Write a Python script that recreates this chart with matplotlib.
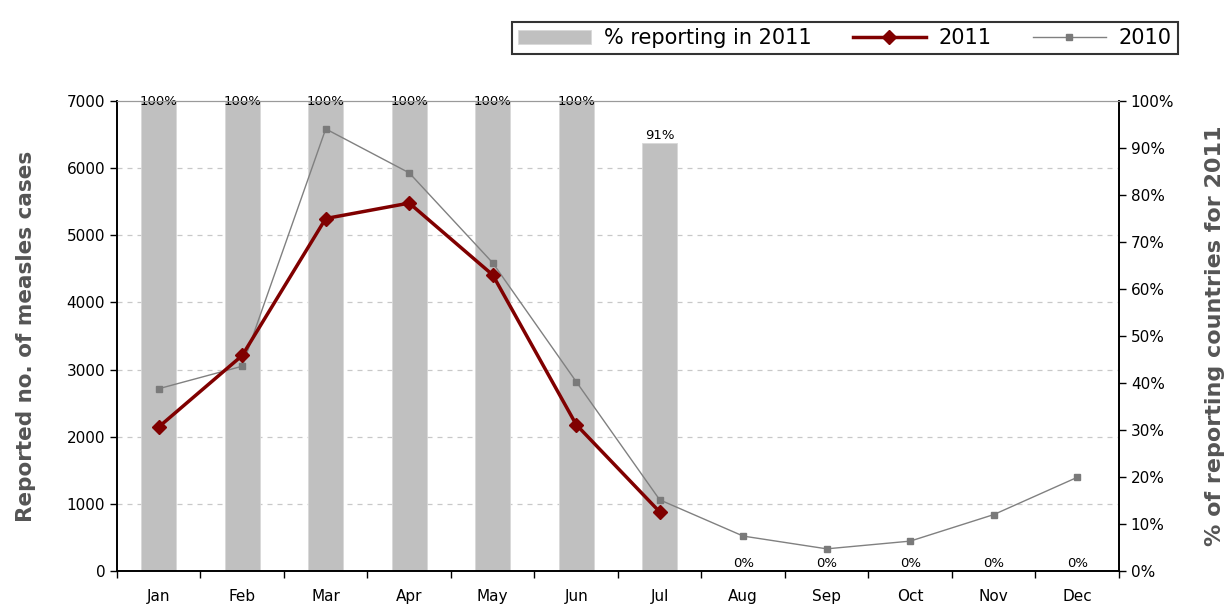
import matplotlib
matplotlib.use('Agg')
import matplotlib.pyplot as plt
from matplotlib.ticker import FixedLocator, PercentFormatter
import numpy as np

# data
months = ['Jan', 'Feb', 'Mar', 'Apr', 'May', 'Jun', 'Jul', 'Aug', 'Sep', 'Oct', 'Nov', 'Dec']
pct_2011 = [1.00, 1.00, 1.00, 1.00, 1.00, 1.00, 0.91, 0, 0, 0, 0, 0]
pct_labels = ['100%', '100%', '100%', '100%', '100%', '100%', '91%', '0%', '0%', '0%', '0%', '0%']
cases_2011 = [2145, 3210, 5250, 5480, 4410, 2180, 880]
cases_2010 = [2715, 3050, 6585, 5930, 4590, 2820, 1060, 520, 330, 445, 840, 1395]

plt.rcParams['font.family'] = 'DejaVu Sans'
lbl_color = '#555555'

fig = plt.figure(figsize=(12.26, 6.05), dpi=100)
ax = fig.add_axes([0.0954, 0.0562, 0.8173, 0.7768])
ax2 = ax.twinx()
# bars behind, lines on top
ax.set_zorder(ax2.get_zorder() + 1)
ax.patch.set_visible(False)

x = np.arange(len(months))
bars = ax2.bar(x, pct_2011, width=0.42, color='#c0c0c0', edgecolor='#d8d8d8',
               linewidth=0.6, label='% reporting in 2011', zorder=2)
for xi, v, s in zip(x, pct_2011, pct_labels):
    if v >= 1:
        ax2.text(xi, v, s, ha='center', va='center', fontsize=9.5, zorder=5)
    else:
        ax2.annotate(s, (xi, v), xytext=(0, 1), textcoords='offset points',
                     ha='center', va='bottom', fontsize=9.5, zorder=5)

l10, = ax.plot(np.arange(len(cases_2010)), cases_2010, color='#808080', lw=1,
               marker='s', ms=5, mfc='#7a7a7a', mec='#7a7a7a', label='2010', zorder=3)
l11, = ax.plot(np.arange(len(cases_2011)), cases_2011, color='#800000', lw=2.5,
               marker='D', ms=7, label='2011', zorder=4)

ax.set_xlim(-0.5, len(months) - 0.5)
ax.set_ylim(0, 7000)
ax.set_yticks(np.arange(0, 7001, 1000))
ax2.set_ylim(0, 1)
ax2.set_yticks(np.arange(0, 1.01, 0.1))
ax2.yaxis.set_major_formatter(PercentFormatter(1.0, decimals=0))

# dashed grid at the case ticks, drawn on the bar axis so it sits behind bars
ax2.yaxis.set_minor_locator(FixedLocator([t / 7000 for t in ax.get_yticks()[1:-1]]))
ax2.grid(which='minor', axis='y', ls=(0, (4, 4)), color='#c8c8c8', lw=0.9, zorder=0)
ax2.tick_params(which='minor', length=0)
ax2.set_axisbelow(True)

ax.set_xticks(x)
ax.set_xticklabels(months)
ax.xaxis.set_minor_locator(FixedLocator(np.arange(-0.5, len(months), 1.0)))
ax.tick_params(axis='x', which='major', length=0, pad=13, labelsize=11)
ax.tick_params(axis='x', which='minor', length=5, direction='out', width=1)
ax.tick_params(axis='y', length=5, direction='out', width=1, labelsize=11)
ax2.tick_params(axis='y', which='major', length=5, direction='out', width=1, labelsize=11)

for a in (ax, ax2):
    a.spines['top'].set_color('#9a9a9a')
    a.spines['left'].set_linewidth(1.2)
    a.spines['right'].set_linewidth(1.2)
    a.spines['bottom'].set_linewidth(1.2)

ax.set_ylabel('Reported no. of measles cases', fontsize=15.5, fontweight='bold',
              color=lbl_color, labelpad=22)
ax2.set_ylabel('% of reporting countries for 2011', fontsize=16, fontweight='bold',
               color=lbl_color, labelpad=22)

leg = fig.legend(handles=[bars, l11, l10], loc='upper right', bbox_to_anchor=(0.969, 0.981),
                 ncol=3, fontsize=15, frameon=True, fancybox=False, edgecolor='black',
                 handlelength=3.5, columnspacing=2.0, handletextpad=0.6,
                 borderpad=0.3)
leg.get_frame().set_linewidth(1.5)

fig.savefig('out.png', dpi=100)
